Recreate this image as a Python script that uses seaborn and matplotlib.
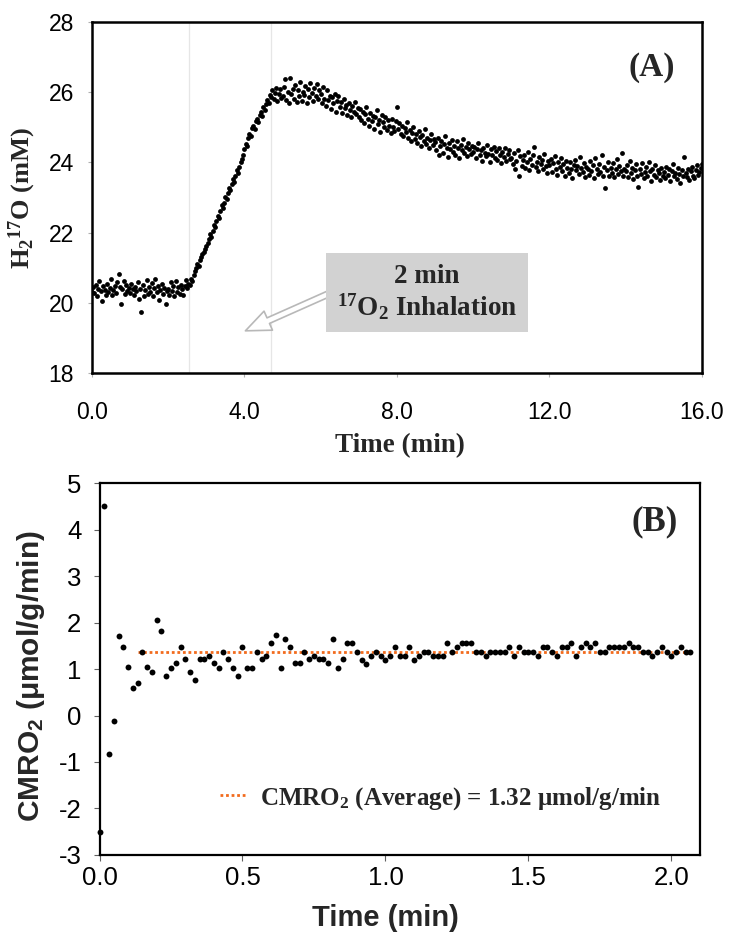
import matplotlib
matplotlib.use("Agg")
import matplotlib.pyplot as plt
import numpy as np
import seaborn as sns
from matplotlib.ticker import FormatStrFormatter

# ---- data ----
# (A) H2-17O signal, one sample every 2 s, one row per minute
h2o17_mM = [
    20.32, 20.45, 20.28, 20.51, 20.19, 20.40, 20.62, 20.33, 20.05, 20.48,
    20.37, 20.22, 20.55, 20.30, 20.41, 20.68, 20.22, 20.36, 20.47, 20.27,
    20.58, 20.82, 20.44, 19.98, 20.39, 20.61, 20.26, 20.50, 20.34, 20.42,
    20.29, 20.55, 20.38, 20.21, 20.46, 20.33, 20.60, 20.12, 20.40, 19.74,
    20.52, 20.18, 20.36, 20.64, 20.24, 20.45, 20.31, 20.57, 20.18, 20.42,
    20.69, 20.30, 20.48, 20.08, 20.37, 20.55, 20.26, 20.43, 19.98, 20.33,
    20.40, 20.23, 20.58, 20.35, 20.47, 20.19, 20.62, 20.30, 20.44, 20.26,
    20.52, 20.38, 20.21, 20.48, 20.65, 20.42, 20.55, 20.50, 20.68, 20.62,
    20.80, 20.91, 20.98, 21.10, 21.05, 21.22, 21.30, 21.38, 21.45, 21.52,
    21.62, 21.70, 21.81, 21.95, 21.88, 22.06, 22.22, 22.15, 22.34, 22.47,
    22.41, 22.62, 22.78, 22.70, 22.85, 23.02, 22.96, 23.12, 23.28, 23.21,
    23.38, 23.52, 23.45, 23.62, 23.78, 23.70, 23.88, 24.02, 24.10, 24.22,
    24.38, 24.52, 24.48, 24.70, 24.82, 24.76, 24.98, 25.05, 24.95, 25.18,
    25.25, 25.15, 25.36, 25.45, 25.32, 25.58, 25.50, 25.66, 25.78, 25.70,
    25.92, 25.85, 26.05, 25.80, 25.98, 26.12, 25.75, 25.95, 26.08, 25.84,
    25.90, 26.15, 26.38, 25.78, 26.02, 25.70, 26.40, 25.95, 26.10, 25.82,
    26.20, 25.72, 26.05, 25.88, 26.28, 25.76, 26.00, 25.92, 26.18, 25.68,
    26.08, 25.85, 26.25, 25.98, 25.74, 26.12, 25.90, 26.22, 25.80, 26.05,
    25.95, 25.70, 26.15, 25.82, 25.60, 26.05, 25.78, 25.90, 25.52, 25.85,
    25.68, 25.95, 25.45, 25.75, 25.88, 25.58, 25.72, 25.40, 25.80, 25.55,
    25.65, 25.35, 25.70, 25.50, 25.28, 25.62, 25.45, 25.72, 25.38, 25.55,
    25.30, 25.52, 25.20, 25.45, 25.12, 25.38, 25.58, 25.25, 25.05, 25.40,
    25.18, 25.32, 24.95, 25.28, 25.48, 25.10, 25.22, 24.88, 25.35, 25.15,
    25.02, 25.30, 24.92, 25.20, 25.05, 24.85, 25.25, 25.00, 24.90, 25.18,
    25.58, 24.95, 25.12, 24.82, 25.05, 24.75, 24.98, 24.88, 25.15, 24.70,
    24.92, 24.62, 24.85, 25.02, 24.68, 24.80, 24.55, 24.90, 24.72, 24.48,
    24.78, 24.60, 24.95, 24.52, 24.70, 24.40, 24.65, 24.82, 24.50, 24.68,
    24.58, 24.35, 24.70, 24.20, 24.48, 24.62, 24.28, 24.52, 24.75, 24.40,
    24.15, 24.55, 24.38, 24.65, 24.30, 24.48, 24.22, 24.60, 24.42, 24.12,
    24.50, 24.35, 24.68, 24.28, 24.45, 24.18, 24.55, 24.38, 24.25, 24.48,
    24.30, 24.45, 24.12, 24.38, 24.55, 24.22, 24.35, 24.05, 24.42, 24.28,
    24.18, 24.50, 24.25, 24.02, 24.38, 24.20, 24.45, 24.12, 24.32, 24.08,
    24.40, 24.22, 23.98, 24.30, 24.15, 24.42, 24.05, 24.25, 24.35, 24.10,
    24.12, 23.95, 24.28, 23.80, 24.05, 24.35, 23.62, 24.18, 23.90, 24.08,
    24.22, 23.85, 24.00, 24.30, 23.78, 24.10, 23.92, 24.20, 24.45, 23.88,
    24.02, 23.75, 24.15, 23.95, 24.08, 23.82, 24.25, 23.90, 23.70, 24.05,
    23.92, 24.10, 23.72, 23.98, 24.18, 23.80, 23.65, 24.02, 23.88, 24.12,
    23.75, 23.95, 23.60, 24.05, 23.85, 23.70, 24.00, 23.82, 23.55, 23.92,
    24.08, 23.78, 23.90, 23.68, 24.15, 23.85, 23.72, 23.98, 23.58, 23.88,
    23.82, 23.65, 24.05, 23.75, 23.92, 23.55, 24.12, 23.80, 23.68, 23.95,
    23.72, 24.20, 23.60, 23.88, 23.28, 23.78, 24.02, 23.62, 23.85, 23.70,
    23.98, 23.58, 23.82, 24.10, 23.66, 23.90, 23.75, 24.28, 23.62, 23.80,
    23.75, 23.92, 23.58, 24.05, 23.70, 23.85, 23.52, 23.78, 23.95, 23.62,
    23.30, 23.80, 23.68, 23.98, 23.55, 23.72, 23.88, 23.60, 24.02, 23.75,
    23.48, 23.82, 23.65, 23.92, 23.58, 23.78, 23.70, 23.50, 23.85, 23.62,
    23.72, 23.55, 23.88, 23.65, 23.80, 23.48, 23.75, 23.95, 23.60, 23.70,
    23.52, 23.85, 23.68, 23.40, 23.78, 23.62, 24.15, 23.70, 23.58, 23.82,
    23.50, 23.75, 23.88, 23.62, 23.55, 23.78, 23.92, 23.65, 23.72, 23.85,
    23.95,
]
time_a = np.arange(len(h2o17_mM)) / 30.0  # 2 s sampling

# light grey markers of the inhalation window (min)
inhalation_window = [2.55, 4.7]

# (B) CMRO2, one value per second
cmro2 = [
    -2.50, 4.50, -0.82, -0.12, 1.72, 1.47, 1.04, 0.59, 0.69, 1.37,
    1.04, 0.94, 2.06, 1.81, 0.86, 1.03, 1.12, 1.47, 1.21, 0.94,
    0.77, 1.21, 1.21, 1.29, 1.12, 1.03, 1.37, 1.21, 1.03, 0.86,
    1.47, 1.03, 1.03, 1.37, 1.21, 1.29, 1.56, 1.73, 1.03, 1.65,
    1.47, 1.12, 1.12, 1.37, 1.21, 1.29, 1.21, 1.21, 1.12, 1.65,
    1.03, 1.21,
    1.55, 1.55, 1.37, 1.19, 1.11, 1.29, 1.37, 1.29, 1.19, 1.29,
    1.47, 1.29, 1.29, 1.47, 1.19, 1.29, 1.37, 1.37, 1.29, 1.29,
    1.29, 1.55, 1.37, 1.47, 1.55, 1.55, 1.55, 1.37, 1.37, 1.29,
    1.37, 1.37, 1.37, 1.37, 1.47, 1.29, 1.47, 1.37, 1.37, 1.37,
    1.29, 1.47, 1.47, 1.37, 1.29, 1.47, 1.47, 1.55, 1.29, 1.47,
    1.55, 1.47, 1.55, 1.37, 1.37, 1.47, 1.47, 1.47, 1.47, 1.55,
    1.47, 1.47, 1.37, 1.37, 1.29, 1.37, 1.47, 1.37, 1.29, 1.37,
    1.47, 1.37, 1.37,
]
time_b = np.arange(len(cmro2)) / 60.0  # 1 s sampling

avg_line_x = [0.135, 2.07]
avg_line_y = [1.36, 1.36]

xticks_a = [0, 4, 8, 12, 16]
yticks_a = [18, 20, 22, 24, 26, 28]
xticks_b = [0.0, 0.5, 1.0, 1.5, 2.0]
yticks_b = [-3, -2, -1, 0, 1, 2, 3, 4, 5]

# ---- style ----
sns.set_theme(style="white")
plt.rcParams["font.family"] = ["Liberation Sans", "DejaVu Sans"]
plt.rcParams["axes.unicode_minus"] = False
plt.rcParams["mathtext.fontset"] = "custom"
plt.rcParams["mathtext.rm"] = "Liberation Serif:bold"
plt.rcParams["mathtext.it"] = "Liberation Serif:bold:italic"
plt.rcParams["mathtext.bf"] = "Liberation Serif:bold"
plt.rcParams["mathtext.sf"] = "Liberation Sans:bold"
plt.rcParams["mathtext.default"] = "rm"

serif = ["Liberation Serif", "DejaVu Serif"]
narrow = ["Liberation Sans Narrow", "Liberation Sans", "DejaVu Sans"]
orange = "#f26b1d"

fig = plt.figure(figsize=(7.29, 9.41), dpi=100)
fig.patch.set_facecolor("white")

# ---------- panel A ----------
ax = fig.add_axes([0.126, 0.6036, 0.837, 0.373])
for xv in inhalation_window:
    ax.axvline(xv, color="#e6e6e6", lw=0.9, zorder=0)
sns.scatterplot(x=time_a, y=h2o17_mM, ax=ax, color="black", s=12,
                linewidth=0, legend=False, zorder=3)
ax.set_xlim(0, 16)
ax.set_ylim(18, 28)
ax.set_xticks(xticks_a)
ax.set_yticks(yticks_a)
ax.xaxis.set_major_formatter(FormatStrFormatter("%.1f"))
ax.tick_params(axis="both", which="major", direction="out", length=3,
               width=0.8, color="#b0b0b0", labelcolor="black")
for lab in ax.get_xticklabels() + ax.get_yticklabels():
    lab.set_family(narrow)
    lab.set_fontsize(16.5)
ax.tick_params(axis="x", pad=17)
ax.tick_params(axis="y", pad=10)
ax.tick_params(bottom=True, left=True)
for sp in ax.spines.values():
    sp.set_color("black")
    sp.set_linewidth(1.8)
ax.set_xlabel("Time (min)", family=serif, weight="bold", fontsize=19.5)
ax.set_ylabel("H$_2$$^{17}$O (mM)", family=serif, weight="bold", fontsize=19)
ax.xaxis.set_label_coords(0.505, -0.17)
ax.yaxis.set_label_coords(-0.088, 0.5)
ax.text(0.918, 0.869, "(A)", transform=ax.transAxes, family=serif,
        weight="bold", fontsize=24, ha="center", va="center")

ax.annotate("", xy=(3.96, 19.17), xytext=(6.3, 20.3),
            arrowprops=dict(arrowstyle="simple,head_length=0.9,head_width=0.75,tail_width=0.22",
                            fc="white", ec="#b8b8b8", lw=1.2, mutation_scale=20),
            zorder=4)
ax.text(8.78, 20.29, "2 min\n$^{17}$O$_2$ Inhalation", family=serif,
        weight="bold", fontsize=19.5, ha="center", va="center",
        multialignment="center", linespacing=1.1, zorder=5,
        bbox=dict(boxstyle="square,pad=0.4", fc="#d2d2d2", ec="none"))

# ---------- panel B ----------
bx = fig.add_axes([0.1365, 0.0914, 0.8237, 0.3953])
sns.scatterplot(x=time_b, y=cmro2, ax=bx, color="black", s=18,
                linewidth=0, legend=False, zorder=3, clip_on=False)
bx.plot(avg_line_x, avg_line_y, color=orange, lw=2, ls=(0, (1, 1)), zorder=2,
        label="CMRO$_2$ (Average) = 1.32 \u03bcmol/g/min")
bx.set_xlim(0, 2.1)
bx.set_ylim(-3, 5)
bx.set_xticks(xticks_b)
bx.set_yticks(yticks_b)
bx.xaxis.set_major_formatter(FormatStrFormatter("%.1f"))
bx.tick_params(axis="both", which="major", direction="out", length=4,
               width=0.8, color="#606060", labelsize=18.5, labelcolor="black")
bx.tick_params(axis="x", pad=4)
bx.tick_params(axis="y", pad=9)
bx.tick_params(bottom=True, left=True)
for sp in bx.spines.values():
    sp.set_color("black")
    sp.set_linewidth(1.6)
bx.set_xlabel("Time (min)", weight="bold", fontsize=21)
bx.set_ylabel("CMRO$_\\mathsf{2}$ (\u03bcmol/g/min)", weight="bold", fontsize=21.5)
bx.xaxis.set_label_coords(0.477, -0.132)
bx.yaxis.set_label_coords(-0.087, 0.48)
bx.text(0.925, 0.895, "(B)", transform=bx.transAxes, family=serif,
        weight="bold", fontsize=25, ha="center", va="center")
bx.legend(loc="center left", bbox_to_anchor=(0.2, 0.153), frameon=False,
          handlelength=1.1, handletextpad=0.5, borderpad=0, borderaxespad=0,
          prop=dict(family=serif, weight="bold", size=18))

fig.savefig("out.png", dpi=100)
